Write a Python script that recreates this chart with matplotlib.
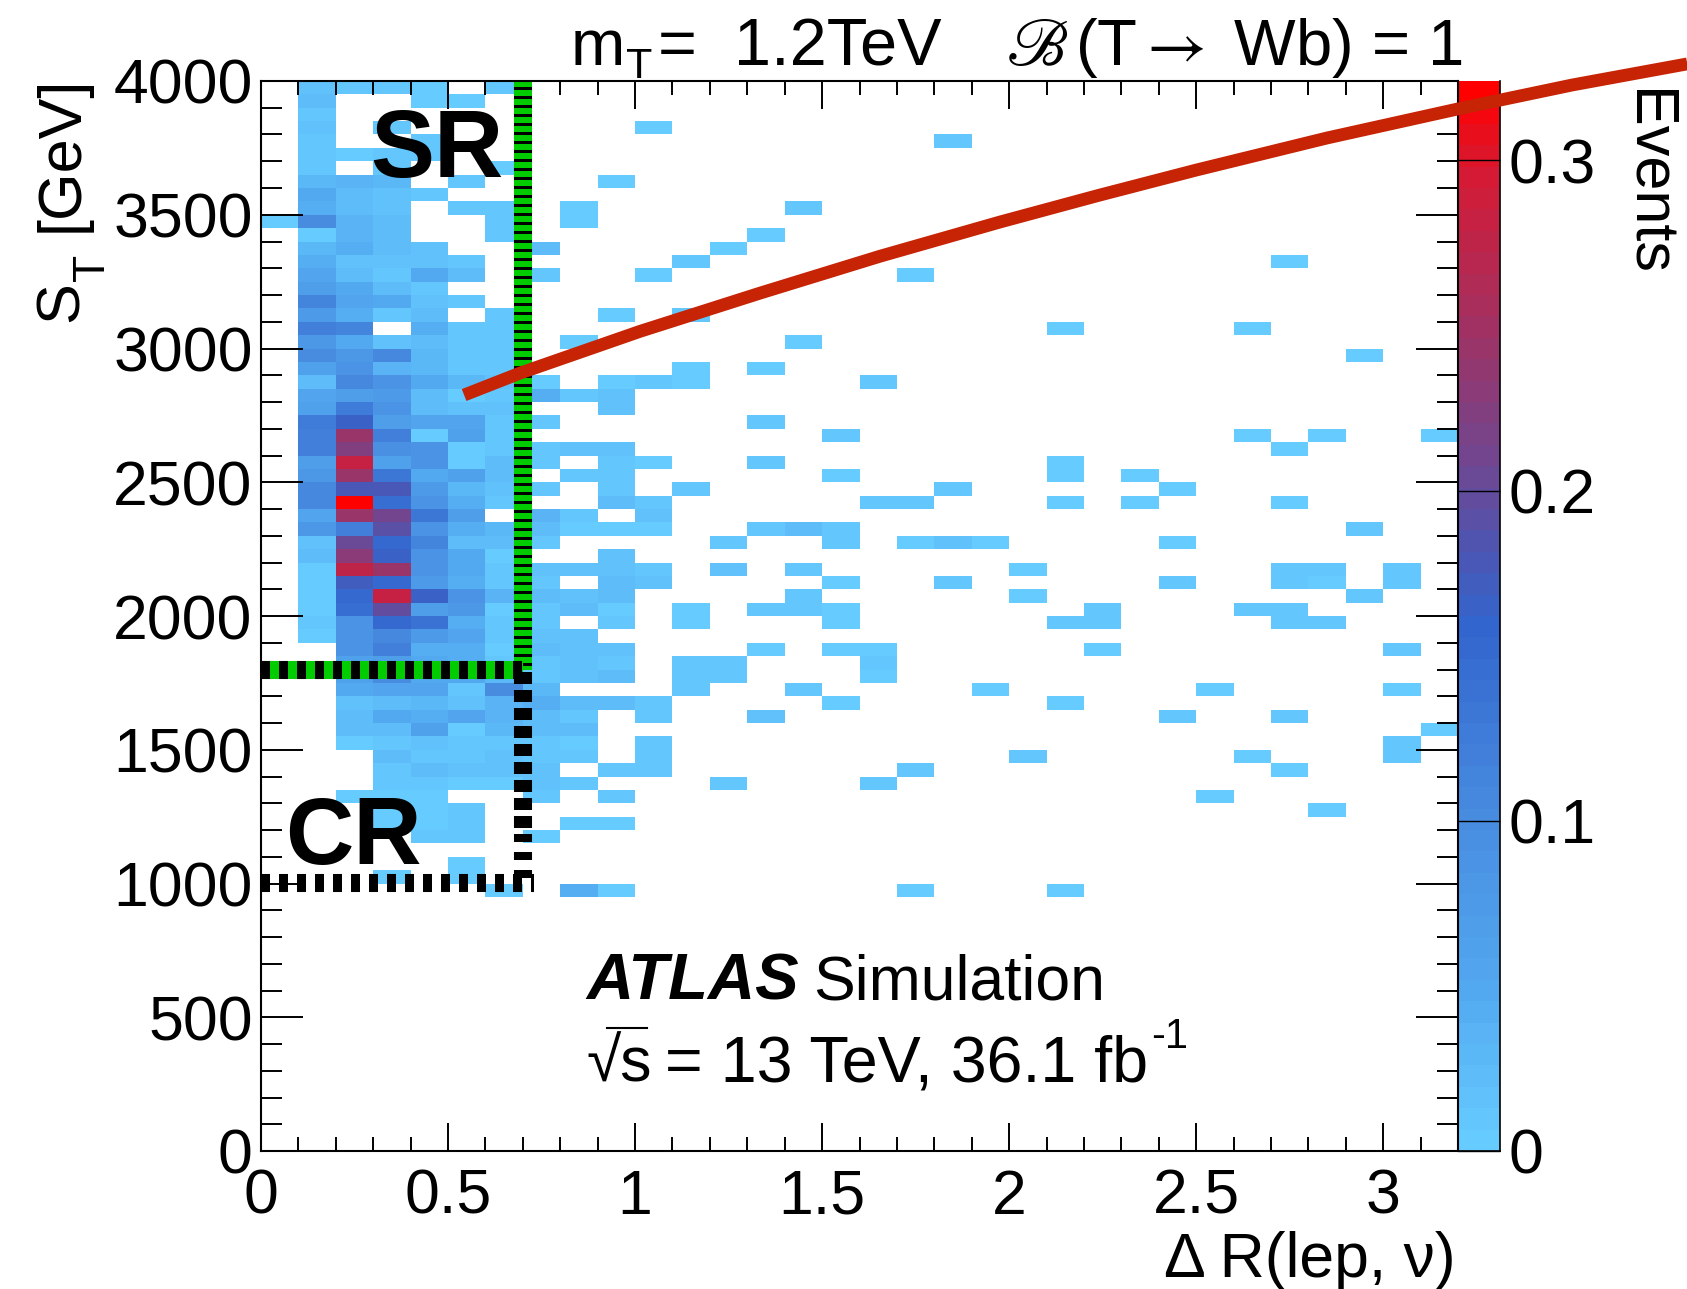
import numpy as np
import matplotlib
matplotlib.use('Agg')
import matplotlib.pyplot as plt
from matplotlib.colors import LinearSegmentedColormap
from matplotlib.lines import Line2D

plt.rcParams['font.family'] = ['Liberation Sans', 'DejaVu Sans']
plt.rcParams['mathtext.fontset'] = 'stix'
plt.rcParams['lines.scale_dashes'] = False

W, H = 1687, 1289

# bin edges of the 2D histogram
dr_edges = np.arange(33) * 0.1
st_edges = np.arange(81) * 50.0

# events x 1000, top row (3950-4000) first, columns dR 0.0 to 0.7
left_block = [
    [0, 15, 10, 12, 5, 0, 8],
    [0, 25, 0, 0, 5, 5, 0],
    [0, 10, 0, 0, 0, 0, 0],
    [0, 15, 0, 10, 0, 0, 0],
    [0, 12, 0, 0, 10, 0, 0],
    [0, 12, 5, 8, 8, 0, 0],
    [0, 10, 0, 10, 0, 0, 5],
    [0, 30, 35, 30, 0, 10, 0],
    [0, 50, 25, 15, 12, 0, 0],
    [0, 40, 25, 15, 0, 10, 10],
    [5, 100, 35, 20, 0, 0, 10],
    [0, 5, 35, 20, 0, 0, 10],
    [0, 30, 40, 20, 15, 0, 0],
    [0, 40, 18, 18, 15, 12, 0],
    [0, 55, 20, 10, 50, 20, 0],
    [0, 70, 50, 20, 10, 0, 0],
    [0, 115, 55, 50, 18, 8, 0],
    [0, 75, 45, 8, 20, 0, 8],
    [0, 120, 115, 0, 40, 10, 8],
    [0, 80, 50, 18, 22, 12, 8],
    [0, 100, 80, 110, 30, 12, 10],
    [0, 60, 90, 35, 30, 12, 10],
    [0, 25, 105, 90, 50, 30, 15],
    [0, 55, 70, 75, 25, 3, 12],
    [0, 60, 125, 85, 25, 15, 15],
    [0, 125, 165, 70, 55, 55, 8],
    [0, 120, 245, 120, 5, 60, 8],
    [0, 120, 225, 95, 90, 5, 8],
    [0, 70, 285, 60, 90, 2, 20],
    [0, 80, 240, 130, 50, 60, 20],
    [0, 105, 180, 180, 75, 30, 15],
    [0, 105, 325, 145, 90, 40, 12],
    [0, 55, 240, 210, 135, 70, 0],
    [0, 80, 120, 190, 90, 40, 30],
    [0, 15, 205, 150, 115, 25, 25],
    [0, 25, 230, 165, 90, 50, 5],
    [0, 3, 275, 245, 90, 50, 12],
    [0, 6, 170, 150, 75, 40, 12],
    [0, 5, 155, 285, 165, 90, 35],
    [0, 5, 145, 200, 70, 80, 3],
    [0, 8, 90, 150, 140, 45, 12],
    [0, 2, 90, 110, 75, 55, 12],
    [0, 0, 90, 120, 45, 40, 4],
    [0, 0, 60, 70, 50, 40, 10],
    [0, 0, 60, 100, 50, 50, 30],
    [0, 0, 50, 55, 55, 8, 100],
    [0, 0, 15, 25, 30, 15, 35],
    [0, 0, 25, 50, 40, 55, 35],
    [0, 0, 25, 25, 60, 5, 30],
    [0, 0, 6, 10, 18, 8, 12],
    [0, 0, 0, 20, 12, 12, 15],
    [0, 0, 0, 10, 22, 15, 15],
    [0, 0, 0, 12, 12, 6, 6],
    [0, 0, 6, 6, 6, 0, 0],
    [0, 0, 0, 6, 6, 8, 0],
    [0, 0, 0, 6, 6, 8, 0],
    [0, 0, 0, 0, 12, 12, 0],
    [0, 0, 0, 0, 0, 0, 0],
    [0, 0, 0, 0, 0, 6, 0],
    [0, 0, 0, 6, 0, 6, 0],
    [0, 0, 0, 0, 0, 0, 6],
]

# sparse cells right of dR = 0.7: row from the top, column, events x 1000
sparse_rows = [3, 4, 7, 9, 9, 10, 11, 12, 12, 13, 13, 14, 14, 14, 17, 17, 18, 18, 19, 19, 20,
               21, 21, 22, 22, 22, 22, 22, 23, 23, 23, 24, 25, 25, 26, 26, 26, 26,
               27, 27, 27, 27, 28, 28, 28, 28, 28, 29, 29, 29, 29, 29,
               30, 30, 30, 30, 30, 31, 31, 31, 31, 31, 31, 31,
               32, 32, 32, 33, 33, 33, 33, 33, 33, 33, 33,
               34, 34, 34, 34, 34, 34, 34, 35,
               36, 36, 36, 36, 36, 36, 36, 36, 36, 36,
               37, 37, 37, 37, 37, 37, 37, 37, 37,
               38, 38, 38, 38, 38, 38,
               39, 39, 39, 39, 39, 39, 39, 39, 39, 39,
               40, 40, 40, 40, 40, 40, 40, 40, 41, 41,
               42, 42, 42, 42, 42, 42, 42, 42, 43, 43, 43, 43, 43, 43,
               44, 44, 44, 44, 44, 44, 45, 45, 45, 45, 45, 45,
               46, 46, 46, 46, 46, 46, 47, 47, 47, 47, 47, 47,
               48, 48, 48, 49, 49, 49, 49, 50, 50, 50, 50, 50, 50,
               51, 51, 51, 51, 51, 52, 52, 52, 52, 53, 53, 53, 54, 55, 55, 56,
               60, 60, 60, 60]
sparse_cols = [10, 18, 9, 8, 14, 8, 13, 7, 12, 11, 27, 7, 10, 17, 9, 11, 21, 26, 8, 14, 29,
               11, 13, 7, 9, 10, 11, 16, 7, 8, 9, 9, 7, 13, 15, 26, 28, 31,
               7, 8, 9, 27, 7, 9, 10, 13, 21, 8, 9, 15, 21, 23,
               7, 9, 11, 18, 24, 9, 10, 16, 17, 21, 23, 27,
               7, 8, 10, 7, 8, 9, 10, 13, 14, 15, 29,
               7, 12, 15, 17, 18, 19, 24, 9,
               7, 8, 9, 10, 12, 14, 20, 27, 28, 30,
               7, 9, 10, 15, 18, 24, 27, 28, 30,
               7, 8, 9, 14, 20, 29,
               7, 8, 9, 11, 13, 14, 15, 22, 26, 27,
               7, 9, 11, 15, 21, 22, 27, 28, 7, 8,
               7, 8, 9, 13, 15, 16, 22, 30, 7, 8, 9, 11, 12, 16,
               7, 8, 9, 11, 12, 16, 7, 11, 14, 19, 25, 30,
               7, 8, 9, 10, 15, 21, 7, 8, 10, 13, 24, 27,
               7, 8, 31, 7, 8, 10, 30, 7, 8, 10, 20, 26, 30,
               7, 9, 10, 17, 27, 7, 8, 12, 16, 7, 9, 25, 28, 8, 9, 7,
               8, 9, 17, 21]
sparse_vals = [5, 12, 6, 5, 9, 5, 5, 20, 6, 12, 5, 12, 5, 5, 5, 8, 4, 4, 5, 5, 6,
               5, 5, 5, 6, 12, 5, 8, 45, 10, 15, 15, 12, 8, 8, 5, 5, 5,
               10, 15, 15, 5, 12, 8, 5, 10, 6, 12, 8, 6, 6, 5,
               12, 10, 10, 8, 5, 22, 12, 8, 10, 5, 5, 4,
               35, 12, 18, 22, 6, 6, 6, 12, 20, 8, 8,
               12, 10, 7, 6, 15, 6, 5, 15,
               15, 15, 15, 8, 15, 8, 6, 8, 10, 8,
               12, 25, 15, 6, 8, 10, 8, 6, 8,
               20, 18, 25, 8, 6, 7,
               10, 22, 6, 6, 10, 10, 6, 8, 7, 8,
               12, 12, 5, 6, 9, 8, 7, 7, 15, 15,
               25, 15, 15, 6, 5, 6, 6, 9, 12, 15, 10, 12, 7, 10,
               12, 15, 20, 7, 7, 5, 30, 8, 10, 5, 6, 5,
               40, 25, 20, 10, 5, 5, 20, 12, 10, 15, 10, 8,
               20, 20, 5, 12, 6, 10, 9, 12, 8, 12, 12, 5, 9,
               15, 12, 12, 8, 5, 14, 10, 8, 8, 12, 10, 5, 5, 6, 6, 5,
               45, 4, 5, 5]

# mass limit curve, running off the right side of the frame
limit_dr = [0.543, 0.6925, 1.013, 1.334, 1.655, 1.976, 2.238, 2.5, 2.85, 3.198, 3.505, 3.813]
limit_st = [2826, 2908, 3064, 3207, 3345, 3473, 3572, 3667, 3787, 3895, 3985, 4064]

x_ticks = [0, 0.5, 1, 1.5, 2, 2.5, 3]
x_tick_labels = ['0', '0.5', '1', '1.5', '2', '2.5', '3']
y_ticks = [0, 500, 1000, 1500, 2000, 2500, 3000, 3500, 4000]
cbar_ticks = [0, 0.1, 0.2, 0.3]
cbar_tick_labels = ['0', '0.1', '0.2', '0.3']
z_max = 0.324

# colour stops of the palette, from the colour bar
stop_vals = [0, 0.05, 0.1, 0.16, 0.2, 0.25, 0.3, z_max]
stop_cols = ['#66ccff', '#52a6ee', '#488ce0', '#3264cd', '#644b9b', '#a03264', '#d71932', '#ff0000']

grid = np.zeros((80, 32))
for r, row in enumerate(left_block):
    grid[79 - r, :len(row)] = row
for r, c, v in zip(sparse_rows, sparse_cols, sparse_vals):
    grid[79 - r, c] = v
grid = np.ma.masked_equal(grid / 1000.0, 0)

cmap = LinearSegmentedColormap.from_list(
    'atlas', [(v / z_max, c) for v, c in zip(stop_vals, stop_cols)], N=50)

fig = plt.figure(figsize=(W / 100, H / 100), dpi=100)
ax = fig.add_axes([261 / W, 1 - 1151 / H, (1458 - 261) / W, (1151 - 81) / H])
cax = fig.add_axes([1458 / W, 1 - 1151 / H, (1500 - 1458) / W, (1151 - 81) / H])
ax.set_zorder(5)
ax.patch.set_alpha(0)

ax.pcolormesh(dr_edges, st_edges, grid, cmap=cmap, vmin=0, vmax=z_max, zorder=1)
ax.set_xlim(0, 3.2)
ax.set_ylim(0, 4000)

ax.set_xticks(x_ticks)
ax.set_xticklabels(x_tick_labels)
ax.set_xticks(np.arange(0, 3.21, 0.1), minor=True)
ax.set_yticks(y_ticks)
ax.set_yticks(np.arange(0, 4001, 100), minor=True)
ax.tick_params(axis='x', which='major', direction='in', top=True, length=20, width=1.4, labelsize=45, pad=12)
ax.tick_params(axis='x', which='minor', direction='in', top=True, length=10, width=1.4)
ax.tick_params(axis='y', which='major', direction='in', right=True, length=30, width=1.4, labelsize=45, pad=6)
ax.tick_params(axis='y', which='minor', direction='in', right=True, length=15, width=1.4)
for s in ax.spines.values():
    s.set_linewidth(1.5)

# colour bar
cbar_levels = np.linspace(0, z_max, 51)
cax.pcolormesh([0, 1], cbar_levels, ((cbar_levels[:-1] + cbar_levels[1:]) / 2).reshape(-1, 1),
               cmap=cmap, vmin=0, vmax=z_max)
cax.set_xlim(0, 1)
cax.set_ylim(0, z_max)
cax.set_xticks([])
cax.yaxis.tick_right()
cax.set_yticks(cbar_ticks)
cax.set_yticklabels(cbar_tick_labels)
cax.tick_params(axis='y', direction='in', length=30, width=1.0, labelsize=45, pad=6)
for s in cax.spines.values():
    s.set_linewidth(1.2)
cax.spines['top'].set_visible(False)

# SR and CR boundaries, dashes in points
lw_box = 13
px = 0.72
ax.plot([0.7, 0.7], [4000, 1800], color='#00cc00', lw=lw_box, solid_capstyle='butt', zorder=2)
ax.plot([0.7, 0.7], [4000, 1800], color='black', lw=lw_box, dash_capstyle='butt',
        linestyle=(3 * px, (3 * px, 6 * px)), zorder=2)
ax.plot([0, 0.7], [1800, 1800], color='#00cc00', lw=lw_box, solid_capstyle='butt', zorder=2)
ax.plot([0, 0.7], [1800, 1800], color='black', lw=lw_box, dash_capstyle='butt',
        linestyle=(0, (9 * px, 9 * px)), zorder=2)
cr_dashes = (12 * px, 6 * px) * 9 + (8 * px, 10 * px) * 3
ax.plot([0.7, 0.7], [1790, 1000], color='black', lw=lw_box, dash_capstyle='butt',
        linestyle=(0, cr_dashes), zorder=2)
ax.plot([0, 0.73], [1002, 1002], color='black', lw=lw_box, dash_capstyle='butt',
        linestyle=(0, (9 * px, 9 * px)), zorder=2)

ax.plot(limit_dr, limit_st, color='#c62405', lw=9.2, solid_capstyle='butt',
        solid_joinstyle='round', clip_on=False, zorder=6)

# texts
ax.text(370 / W, 1 - 177 / H, 'SR', transform=fig.transFigure, fontsize=69, fontweight='bold', zorder=7)
ax.text(285 / W, 1 - 864 / H, 'CR', transform=fig.transFigure, fontsize=68, fontweight='bold', zorder=7)
fig.text(586 / W, 1 - 1000 / H, 'ATLAS', fontsize=47, fontweight='bold', fontstyle='italic')
fig.text(813 / W, 1 - 1000 / H, 'Simulation', fontsize=45)

fig.text(586 / W, 1 - 1081 / H, '\u221as', fontsize=45)
fig.add_artist(Line2D([607 / W, 647 / W], [1 - 1028 / H, 1 - 1028 / H], color='black', lw=1.5))
fig.text(665 / W, 1 - 1081 / H, '= 13 TeV, 36.1 fb', fontsize=46.5)
fig.text(1151 / W, 1 - 1048 / H, '-1', fontsize=30)

fig.text(571 / W, 1 - 65 / H, 'm', fontsize=47, va='baseline')
fig.text(626 / W, 1 - 78 / H, 'T', fontsize=31, va='baseline', zorder=10)
fig.text(658 / W, 1 - 65 / H, '=  1.2TeV', fontsize=48, va='baseline')
fig.text(1006 / W, 1 - 65 / H, r'$\mathscr{B}$', fontsize=48, va='baseline')
fig.text(1463 / W, 1 - 65 / H, r'(T$\rightarrow$ Wb) = 1', fontsize=47, ha='right', va='baseline')

# y axis title in pieces, the subscript sits low and large
fig.text(91 / W, 1 - 322 / H, 'S', fontsize=44, rotation=90, ha='right', va='bottom')
fig.text(113 / W, 1 - 281 / H, 'T', fontsize=32, rotation=90, ha='right', va='bottom')
fig.text(91 / W, 1 - 76 / H, '[GeV]', fontsize=44, rotation=90, ha='right', va='top')

fig.text(1456 / W, 1 - 1277 / H, '\u0394 R(lep, \u03bd)', fontsize=45, ha='right', va='baseline')
fig.text(1619 / W, 1 - 89 / H, 'Events', fontsize=44, rotation=270, ha='left', va='top')

fig.savefig('out.png', dpi=100)
